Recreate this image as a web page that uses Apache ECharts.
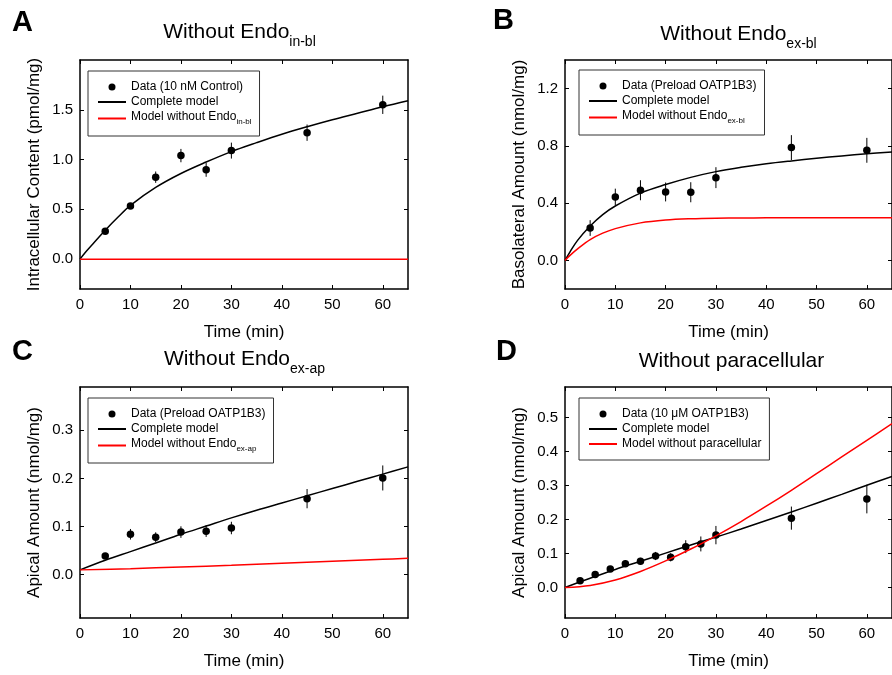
<!DOCTYPE html>
<html>
<head>
<meta charset="utf-8">
<script src="https://cdn.jsdelivr.net/npm/echarts@6/dist/echarts.min.js"></script>
<style>
  html, body { margin: 0; padding: 0; background: #fff; }
  #chart { width: 892px; height: 675px; }
</style>
</head>
<body>
<div id="chart"></div>
<script>
var FONT = '"Liberation Sans", Arial, Helvetica, sans-serif';

// x ticks shared by all panels
var xTicks = [0, 10, 20, 30, 40, 50, 60];

// A - intracellular content (pmol/mg)
var timeA = [5, 10, 15, 20, 25, 30, 45, 60];
var dataA = [0.28, 0.533, 0.823, 1.04, 0.897, 1.09, 1.27, 1.55];
var errA = [0.02, 0.025, 0.057, 0.067, 0.07, 0.08, 0.082, 0.092];
var modelTimeA = [0, 1, 2.5, 5, 7.5, 10, 15, 20, 25, 30, 35, 40, 45, 50, 55, 60, 65];
var completeA = [0, 0.065, 0.15, 0.29, 0.42, 0.54, 0.72, 0.86, 0.975, 1.08, 1.17, 1.255, 1.33, 1.40, 1.465, 1.53, 1.59];
var withoutTimeA = [0, 65];
var withoutA = [0, 0];
var yTicksA = [0, 0.5, 1.0, 1.5];

// B - basolateral amount (nmol/mg)
var timeB = [5, 10, 15, 20, 25, 30, 45, 60];
var dataB = [0.226, 0.443, 0.49, 0.478, 0.476, 0.578, 0.788, 0.769];
var errB = [0.055, 0.058, 0.07, 0.066, 0.07, 0.073, 0.087, 0.087];
var modelTimeB = [0, 1, 2.5, 5, 7.5, 10, 15, 20, 25, 30, 35, 40, 45, 50, 55, 60, 65];
var completeB = [0, 0.06, 0.14, 0.24, 0.32, 0.38, 0.47, 0.53, 0.58, 0.62, 0.65, 0.675, 0.695, 0.713, 0.73, 0.745, 0.757];
var withoutB = [0, 0.035, 0.08, 0.145, 0.19, 0.222, 0.262, 0.282, 0.291, 0.295, 0.296, 0.297, 0.297, 0.297, 0.297, 0.297, 0.297];
var yTicksB = [0, 0.4, 0.8, 1.2];

// C - apical amount (nmol/mg)
var timeC = [5, 10, 15, 20, 25, 30, 45, 60];
var dataC = [0.039, 0.084, 0.078, 0.0885, 0.0905, 0.097, 0.158, 0.201];
var errC = [0.004, 0.011, 0.01, 0.012, 0.012, 0.013, 0.02, 0.026];
var modelTimeC = [0, 5, 10, 15, 20, 25, 30, 35, 40, 45, 50, 55, 60, 65];
var completeC = [0.010, 0.030, 0.048, 0.066, 0.084, 0.101, 0.118, 0.134, 0.149, 0.164, 0.179, 0.194, 0.209, 0.224];
var withoutTimeC = [0, 10, 20, 30, 40, 50, 60, 65];
var withoutC = [0.010, 0.0125, 0.016, 0.0195, 0.024, 0.028, 0.032, 0.034];
var yTicksC = [0, 0.1, 0.2, 0.3];

// D - apical amount, paracellular (nmol/mg)
var timeD = [3, 6, 9, 12, 15, 18, 21, 24, 27, 30, 45, 60];
var dataD = [0.020, 0.038, 0.054, 0.070, 0.077, 0.0925, 0.0886, 0.120, 0.128, 0.154, 0.204, 0.260];
var errD = [0.005, 0.006, 0.008, 0.01, 0.01, 0.012, 0.012, 0.019, 0.022, 0.027, 0.034, 0.042];
var modelTimeD = [0, 5, 10, 15, 20, 25, 30, 35, 40, 45, 50, 55, 60, 65];
var completeD = [0, 0.027, 0.053, 0.077, 0.101, 0.125, 0.148, 0.172, 0.197, 0.222, 0.248, 0.274, 0.301, 0.327];
var withoutD = [0, 0.006, 0.022, 0.047, 0.078, 0.113, 0.152, 0.194, 0.239, 0.286, 0.335, 0.384, 0.433, 0.482];
var yTicksD = [0, 0.1, 0.2, 0.3, 0.4, 0.5];

function zip(xs, ys) {
    return xs.map(function (x, i) { return [x, ys[i]]; });
}
function zip3(xs, ys, es) {
    return xs.map(function (x, i) { return [x, ys[i], es[i]]; });
}

var panels = [
    {
        grid: { left: 80, top: 60, width: 328, height: 229 },
        yMin: -0.3, yMax: 2.0, yTicks: yTicksA,
        yName: 'Intracellular Content (pmol/mg)',
        legendPos: [88, 71],
        names: ['Data (10 nM Control)', 'Complete model', 'Model without Endo_in-bl'],
        points: zip3(timeA, dataA, errA),
        complete: zip(modelTimeA, completeA),
        without: zip(withoutTimeA, withoutA)
    },
    {
        grid: { left: 565, top: 60, width: 328, height: 229 },
        yMin: -0.2, yMax: 1.4, yTicks: yTicksB,
        yName: 'Basolateral Amount (nmol/mg)',
        legendPos: [579, 70],
        names: ['Data (Preload OATP1B3)', 'Complete model', 'Model without Endo_ex-bl'],
        points: zip3(timeB, dataB, errB),
        complete: zip(modelTimeB, completeB),
        without: zip(modelTimeB, withoutB)
    },
    {
        grid: { left: 80, top: 387, width: 328, height: 231 },
        yMin: -0.09, yMax: 0.39, yTicks: yTicksC,
        yName: 'Apical Amount (nmol/mg)',
        legendPos: [88, 398],
        names: ['Data (Preload OATP1B3)', 'Complete model', 'Model without Endo_ex-ap'],
        points: zip3(timeC, dataC, errC),
        complete: zip(modelTimeC, completeC),
        without: zip(withoutTimeC, withoutC)
    },
    {
        grid: { left: 565, top: 387, width: 328, height: 231 },
        yMin: -0.09, yMax: 0.59, yTicks: yTicksD,
        yName: 'Apical Amount (nmol/mg)',
        legendPos: [579, 398],
        names: ['Data (10 μM OATP1B3)', 'Complete model', 'Model without paracellular'],
        points: zip3(timeD, dataD, errD),
        complete: zip(modelTimeD, completeD),
        without: zip(modelTimeD, withoutD)
    }
];

var axisLine = { onZero: false, lineStyle: { color: '#000', width: 1.5 } };

function tick(values) {
    return { inside: true, length: 4, customValues: values, lineStyle: { color: '#000', width: 1 } };
}

var grids = [], xAxes = [], yAxes = [], legends = [], series = [];

panels.forEach(function (p, gi) {
    grids.push(p.grid);

    xAxes.push({
        gridIndex: gi, type: 'value', position: 'bottom', min: 0, max: 65,
        axisLine: axisLine, axisTick: tick(xTicks), splitLine: { show: false },
        axisLabel: { customValues: xTicks, margin: 8, fontSize: 15, color: '#000', fontFamily: FONT },
        name: 'Time (min)', nameLocation: 'middle', nameGap: 35,
        nameTextStyle: { fontSize: 17, color: '#000', fontFamily: FONT }
    });
    xAxes.push({
        gridIndex: gi, type: 'value', position: 'top', min: 0, max: 65,
        axisLine: axisLine, axisTick: tick(xTicks), splitLine: { show: false },
        axisLabel: { show: false }
    });

    yAxes.push({
        gridIndex: gi, type: 'value', position: 'left', min: p.yMin, max: p.yMax,
        axisLine: axisLine, axisTick: tick(p.yTicks), splitLine: { show: false },
        axisLabel: {
            customValues: p.yTicks, margin: 7, fontSize: 15, color: '#000', fontFamily: FONT,
            formatter: function (v) { return v.toFixed(1); }
        },
        name: p.yName, nameLocation: 'middle', nameGap: 37,
        nameTextStyle: { fontSize: 17, color: '#000', fontFamily: FONT }
    });
    yAxes.push({
        gridIndex: gi, type: 'value', position: 'right', min: p.yMin, max: p.yMax,
        axisLine: axisLine, axisTick: tick(p.yTicks), splitLine: { show: false },
        axisLabel: { show: false }
    });

    legends.push({
        left: p.legendPos[0], top: p.legendPos[1], orient: 'vertical',
        data: [
            { name: p.names[0], icon: 'circle' },
            { name: p.names[1], itemStyle: { opacity: 0 } },
            { name: p.names[2], itemStyle: { opacity: 0 } }
        ],
        itemWidth: 28, itemHeight: 7, itemGap: 3,
        padding: [10, 8, 10, 9],
        borderColor: '#333', borderWidth: 1, backgroundColor: '#fff',
        selectedMode: false,
        textStyle: {
            fontSize: 12, color: '#000', fontFamily: FONT,
            rich: {
                m: { fontSize: 12, color: '#000', fontFamily: FONT, verticalAlign: 'bottom', padding: [0, 0, 3, 0] },
                s: { fontSize: 8, color: '#000', fontFamily: FONT, verticalAlign: 'bottom' }
            }
        },
        formatter: function (name) {
            var parts = name.split('_');
            return parts.length > 1 ? '{m|' + parts[0] + '}{s|' + parts[1] + '}' : name;
        }
    });

    var ax = { xAxisIndex: gi * 2, yAxisIndex: gi * 2 };

    // error bars
    series.push(Object.assign({
        type: 'custom', name: 'err' + gi, data: p.points, clip: true,
        encode: { x: 0, y: 1 },
        renderItem: function (params, api) {
            var x = api.value(0), y = api.value(1), e = api.value(2);
            var lo = api.coord([x, y - e]), hi = api.coord([x, y + e]);
            return {
                type: 'line',
                shape: { x1: lo[0], y1: lo[1], x2: hi[0], y2: hi[1] },
                style: { stroke: '#000', lineWidth: 1 }
            };
        }
    }, ax));

    series.push(Object.assign({
        type: 'scatter', name: p.names[0], data: p.points.map(function (d) { return [d[0], d[1]]; }),
        symbol: 'circle', symbolSize: 7.5, itemStyle: { color: '#000', opacity: 1 }
    }, ax));

    series.push(Object.assign({
        type: 'line', name: p.names[1], data: p.complete, symbol: 'none',
        smooth: 0.35,
        lineStyle: { color: '#000', width: 1.5 }, itemStyle: { color: '#000' }
    }, ax));

    series.push(Object.assign({
        type: 'line', name: p.names[2], data: p.without, symbol: 'none',
        smooth: 0.35,
        lineStyle: { color: '#ff0000', width: 1.5 }, itemStyle: { color: '#ff0000' }
    }, ax));
});

function letter(t, x, y) {
    return { type: 'text', x: x, y: y, style: { text: t, font: 'bold 29px ' + FONT, fill: '#000', align: 'left', verticalAlign: 'top' } };
}
function title(main, sub, x, y) {
    var txt = sub ? '{m|' + main + '}{s|' + sub + '}' : '{m|' + main + '}';
    return {
        type: 'text', x: x, y: y,
        style: {
            text: txt, align: 'center', verticalAlign: 'top',
            rich: {
                m: { fontSize: 21, fontFamily: FONT, fill: '#000', verticalAlign: 'bottom', padding: [0, 0, 6, 0] },
                s: { fontSize: 14, fontFamily: FONT, fill: '#000', verticalAlign: 'bottom' }
            }
        }
    };
}

var myChart = echarts.init(document.getElementById('chart'));
myChart.setOption({
    animation: false,
    backgroundColor: '#fff',
    grid: grids,
    xAxis: xAxes,
    yAxis: yAxes,
    legend: legends,
    series: series,
    graphic: [
        letter('A', 12, 8),
        letter('B', 493, 6),
        letter('C', 12, 337),
        letter('D', 496, 337),
        title('Without Endo', 'in-bl', 239.5, 22),
        title('Without Endo', 'ex-bl', 738.5, 24),
        title('Without Endo', 'ex-ap', 244.5, 349),
        title('Without paracellular', '', 731.5, 351)
    ]
});
</script>
</body>
</html>
